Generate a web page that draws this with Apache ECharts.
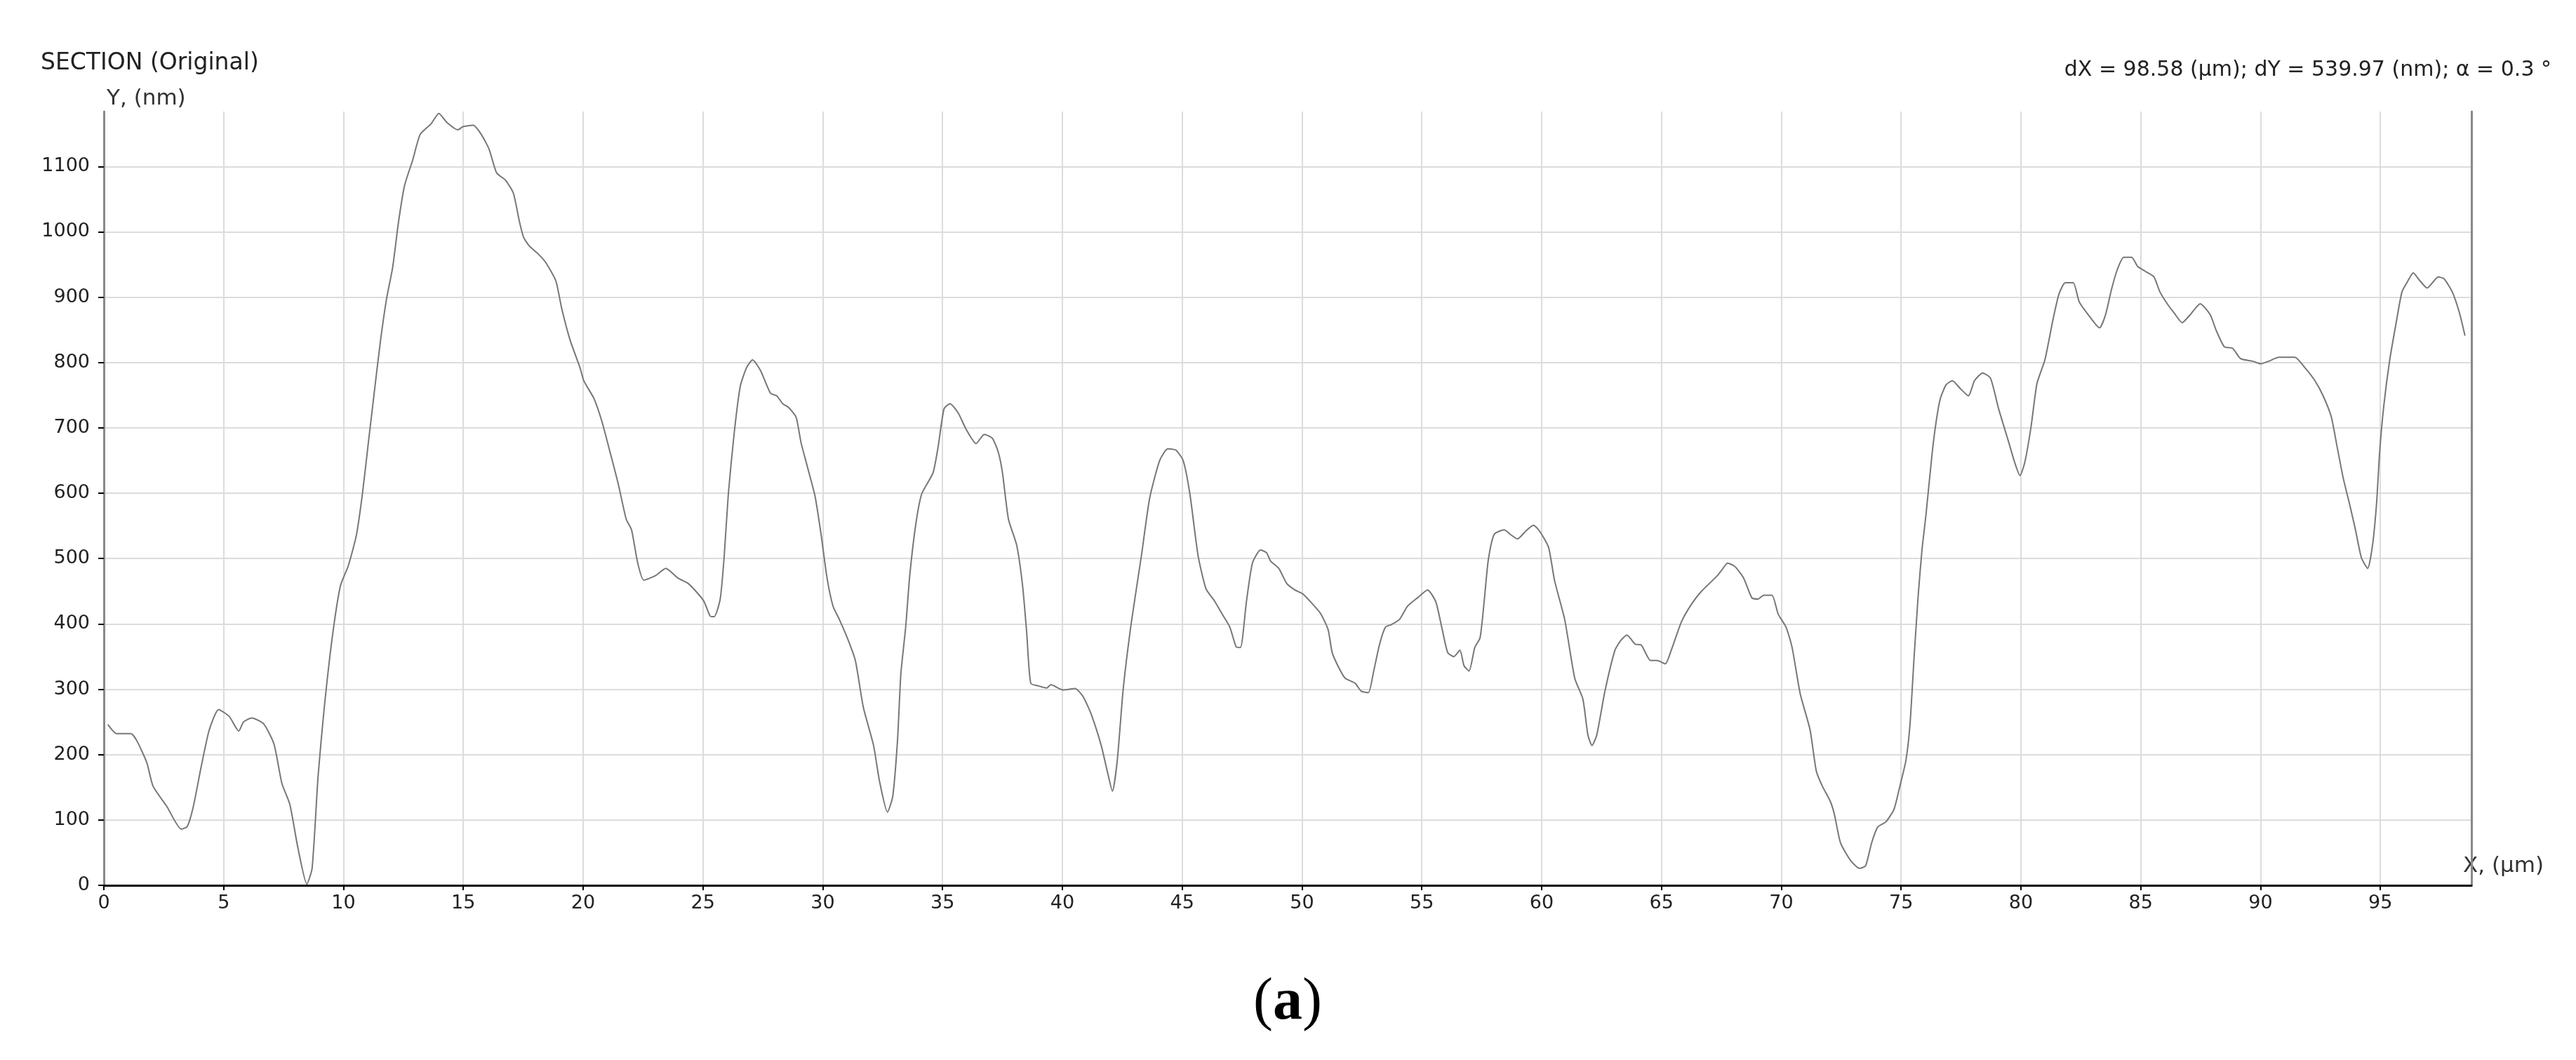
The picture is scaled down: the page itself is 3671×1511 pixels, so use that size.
<!DOCTYPE html>
<html>
<head>
<meta charset="utf-8">
<title>SECTION (Original)</title>
<script src="https://cdn.jsdelivr.net/npm/echarts@6/dist/echarts.min.js"></script>
<style>
  html, body { margin: 0; padding: 0; background: #fff; }
  #main { width: 3671px; height: 1511px; }
</style>
</head>
<body>
<div id="main"></div>
<script>
// X, (µm) - positions
var positions = [
	0.17,0.54,1.13,1.38,1.8,2.05,2.64,3.23,3.48,3.73,4.07,4.4,4.79,5.24,5.63,5.83,6.17,6.67,7.1,7.43,7.76,8.1,8.47,8.69,8.94,9.19,9.53,9.87,10.2,10.54,10.79,11.04,11.29,11.55,11.8,12.05,12.3,12.55,12.89,13.2,13.65,13.98,14.32,14.77,14.99,15.41,15.75,16.08,16.39,16.76,17.09,17.34,17.51,17.76,18.1,18.44,18.86,19.11,19.45,19.87,20.03,20.45,20.79,21.13,21.46,21.8,
	22.02,22.28,22.53,23.03,23.45,23.96,24.38,24.8,25.05,25.3,25.47,25.72,25.89,26.06,26.31,26.56,26.82,27.07,27.4,27.82,28.08,28.33,28.58,28.89,29.09,29.34,29.68,29.93,30.18,30.43,30.69,31.02,31.36,31.69,32.12,32.37,32.7,32.92,33.12,33.26,33.46,33.63,33.88,34.13,34.6,34.81,35.06,35.31,35.65,35.98,36.4,36.74,37.08,37.33,37.5,37.75,38.09,38.34,38.51,38.68,39.01,39.35,39.52,40.02,40.53,40.86,41.2,41.62,41.87,42.09,42.29,42.54,42.88,43.3,43.64,44.06,44.4,44.73,45.04,45.32,45.66,45.99,46.33,46.67,46.99,47.25,
	47.43,47.68,47.93,48.27,48.52,48.69,49.03,49.36,49.7,50.03,50.45,50.79,51.09,51.26,51.55,51.8,52.22,52.47,52.77,52.97,53.23,53.48,53.73,54.07,54.4,54.82,55.24,55.58,55.83,56.08,56.34,56.59,56.76,56.97,57.21,57.43,57.6,57.77,58.02,58.44,58.69,58.99,59.36,59.66,59.95,60.29,60.54,60.96,61.38,61.72,61.93,62.1,62.3,62.64,63.06,63.31,63.56,63.9,64.15,64.54,64.82,65.16,65.41,65.83,66.25,66.67,67.34,67.51,67.76,68.06,68.43,68.77,69.02,69.27,69.61,69.87,70.2,70.45,70.79,71.2,71.46,71.71,72.05,72.22,72.47,72.89,
	73.27,73.52,73.77,74.02,74.36,74.7,74.95,75.2,75.37,75.54,75.71,75.87,76.04,76.3,76.46,76.63,76.88,77.14,77.47,77.81,78.06,78.4,78.73,79.07,79.49,79.74,79.96,80.16,80.42,80.67,81.0,81.34,81.59,81.85,82.18,82.43,82.77,83.28,83.53,83.78,84.03,84.29,84.62,84.87,85.21,85.55,85.8,86.14,86.39,86.73,87.06,87.48,87.9,88.15,88.49,88.83,89.16,89.67,90.0,90.34,90.76,91.43,91.85,92.27,92.61,92.95,93.2,93.45,93.71,93.96,94.21,94.47,94.67,94.84,94.97,95.14,95.39,95.65,95.9,96.15,96.37,96.65,96.95,97.15,97.41,97.66,98.0,98.3,98.53
];
// Y, (nm)
var heights = [
	246,232,232,221,187,152,120,86,90,120,183,238,269,258,236,250,256,247,216,156,124,57,2,26,167,269,379,458,489,536,599,678,756,835,898,945,1016,1071,1110,1149,1165,1181,1167,1156,1161,1163,1149,1126,1090,1079,1059,1016,992,978,967,953,925,882,835,792,772,745,709,662,615,560,
	544,493,467,474,485,470,462,446,434,412,411,438,505,599,694,764,792,804,788,753,749,737,731,716,678,643,595,537,470,427,407,379,344,273,214,159,112,136,222,324,395,474,552,599,631,670,729,737,723,698,676,690,684,662,631,560,521,458,387,309,305,302,307,299,301,289,262,214,175,144,191,301,403,505,592,650,668,666,650,599,505,454,436,415,395,365,
	364,434,493,513,509,496,485,462,452,446,430,415,391,356,332,317,309,297,295,324,368,395,399,407,427,440,452,434,395,356,350,360,336,328,364,379,434,497,537,544,537,530,543,551,540,517,466,407,317,285,230,214,230,297,360,375,383,369,368,344,344,339,360,403,430,450,474,482,493,488,470,440,438,444,444,415,395,364,293,238,175,152,128,108,65,38,
	26,30,65,89,97,116,152,191,246,348,442,513,568,663,709,744,766,772,760,749,772,784,776,729,678,647,627,647,701,768,804,866,905,922,922,893,875,853,873,912,943,961,961,947,939,931,908,888,876,861,873,890,873,849,824,822,806,802,798,802,808,808,792,772,749,717,670,623,584,544,501,485,520,584,663,733,804,859,908,925,937,925,914,921,931,928,908,876,841
];
var xMax = 98.8;
var yMax = 1184;
var info = 'dX = 98.58 (\u00b5m); dY = 539.97 (nm); \u03b1 = 0.3 \u00b0';

var profile = [];
for (var i = 0; i < positions.length; i++) {
	profile.push([positions[i], heights[i]]);
}

var myChart = echarts.init(document.getElementById('main'));
var txt = 'DejaVu Sans';

myChart.setOption({
	animation: false,
	backgroundColor: '#ffffff',
	grid: { left: 148, right: 149, top: 159, bottom: 249 },
	xAxis: {
		type: 'value',
		min: 0,
		max: xMax,
		interval: 5,
		axisLine: { lineStyle: { color: '#000', width: 3 } },
		axisTick: { show: true, length: 7, lineStyle: { color: '#000', width: 2 } },
		axisLabel: { margin: 12, fontFamily: txt, fontSize: 27, color: '#222', showMaxLabel: false,
			formatter: function(v) { return String(v); } },
		splitLine: { show: true, showMaxLine: false, lineStyle: { color: '#dcdcdc', width: 2 } }
	},
	yAxis: [{
		type: 'value',
		min: 0,
		max: yMax,
		interval: 100,
		axisLine: { show: true, lineStyle: { color: '#888', width: 3 } },
		axisTick: { show: true, length: 8, lineStyle: { color: '#000', width: 2 } },
		axisLabel: { margin: 20, fontFamily: txt, fontSize: 27, color: '#222', showMaxLabel: false,
			formatter: function(v) { return String(v); } },
		splitLine: { show: true, showMaxLine: false, lineStyle: { color: '#dcdcdc', width: 2 } }
	}, {
		// right border line
		type: 'value',
		position: 'right',
		min: 0,
		max: yMax,
		axisLine: { show: true, lineStyle: { color: '#888', width: 3 } },
		axisTick: { show: false },
		axisLabel: { show: false },
		splitLine: { show: false }
	}],
	series: [{
		type: 'line',
		data: profile,
		showSymbol: false,
		smooth: 0.2,
		lineStyle: { color: '#777777', width: 2 }
	}],
	graphic: [
		{ type: 'text', x: 58, y: 90, style: { text: 'SECTION (Original)', fontFamily: txt, fontSize: 33, fill: '#222', align: 'left', verticalAlign: 'middle' } },
		{ type: 'text', x: 152, y: 141, style: { text: 'Y, (nm)', fontFamily: txt, fontSize: 31, fill: '#333', align: 'left', verticalAlign: 'middle' } },
		{ type: 'text', x: 3636, y: 100, style: { text: info, fontFamily: txt, fontSize: 30, fill: '#222', align: 'right', verticalAlign: 'middle' } },
		{ type: 'text', x: 3510, y: 1235, style: { text: 'X, (\u00b5m)', fontFamily: txt, fontSize: 31, fill: '#333', align: 'left', verticalAlign: 'middle' } },
		{ type: 'text', x: 1835, y: 1430, style: {
			text: '{p|(}{b|a}{p|)}',
			align: 'center', verticalAlign: 'middle',
			rich: {
				p: { fontFamily: 'Liberation Serif', fontSize: 84, fontWeight: 'normal', fill: '#000' },
				b: { fontFamily: 'Liberation Serif', fontSize: 84, fontWeight: 'bold', fill: '#000' }
			}
		} }
	]
});
</script>
</body>
</html>
